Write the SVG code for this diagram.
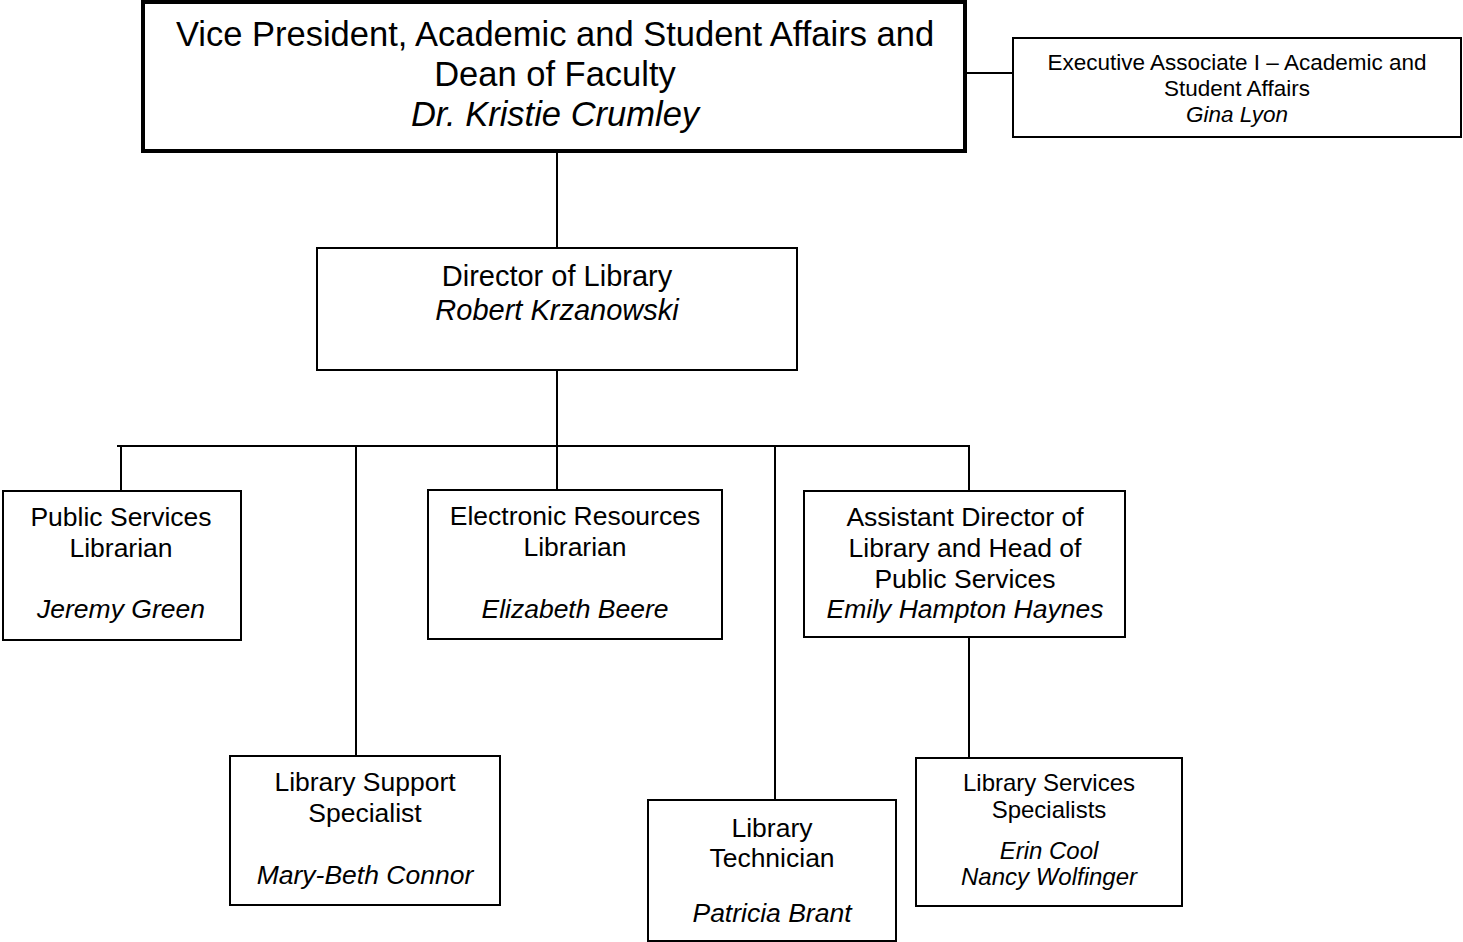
<svg xmlns="http://www.w3.org/2000/svg" width="1463" height="942" viewBox="0 0 1463 942">
<style>
.box{fill:#fff;stroke:#000;stroke-width:2}
.vp{fill:#fff;stroke:#000;stroke-width:4}
.ln{stroke:#000;stroke-width:2;fill:none}
text{font-family:"Liberation Sans",Arial,sans-serif;fill:#000;text-anchor:middle}
.i{font-style:italic}
.t1{font-size:34.5px}
.t2{font-size:29px}
.t3{font-size:26.5px}
.t4{font-size:22.5px}
.t5{font-size:24px}
</style>
<rect width="1463" height="942" fill="#fff"/>
<g id="connectors">
<line class="ln" x1="967" y1="73" x2="1012" y2="73"/>
<line class="ln" x1="557" y1="153" x2="557" y2="248"/>
<line class="ln" x1="557" y1="370" x2="557" y2="490"/>
<line class="ln" x1="117" y1="446" x2="970" y2="446"/>
<line class="ln" x1="121" y1="446" x2="121" y2="491"/>
<line class="ln" x1="356" y1="446" x2="356" y2="756"/>
<line class="ln" x1="775" y1="446" x2="775" y2="800"/>
<line class="ln" x1="969" y1="446" x2="969" y2="491"/>
<line class="ln" x1="969" y1="637" x2="969" y2="758"/>
</g>
<g id="vp">
<rect class="vp" x="143" y="2" width="822" height="149"/>
<text class="t1" x="555" y="46">Vice President, Academic and Student Affairs and</text>
<text class="t1" x="555" y="86">Dean of Faculty</text>
<text class="t1 i" x="555" y="126">Dr. Kristie Crumley</text>
</g>
<g id="exec">
<rect class="box" x="1013" y="38" width="448" height="99"/>
<text class="t4" x="1237" y="70">Executive Associate I – Academic and</text>
<text class="t4" x="1237" y="96">Student Affairs</text>
<text class="t4 i" x="1237" y="122">Gina Lyon</text>
</g>
<g id="director">
<rect class="box" x="317" y="248" width="480" height="122"/>
<text class="t2" x="557" y="286">Director of Library</text>
<text class="t2 i" x="557" y="320">Robert Krzanowski</text>
</g>
<g id="public">
<rect class="box" x="3" y="491" width="238" height="149"/>
<text class="t3" x="121" y="526">Public Services</text>
<text class="t3" x="121" y="557">Librarian</text>
<text class="t3 i" x="121" y="618">Jeremy Green</text>
</g>
<g id="electronic">
<rect class="box" x="428" y="490" width="294" height="149"/>
<text class="t3" x="575" y="525">Electronic Resources</text>
<text class="t3" x="575" y="556">Librarian</text>
<text class="t3 i" x="575" y="618">Elizabeth Beere</text>
</g>
<g id="assistant">
<rect class="box" x="804" y="491" width="321" height="146"/>
<text class="t3" x="965" y="526">Assistant Director of</text>
<text class="t3" x="965" y="557">Library and Head of</text>
<text class="t3" x="965" y="588">Public Services</text>
<text class="t3 i" x="965" y="618">Emily Hampton Haynes</text>
</g>
<g id="support">
<rect class="box" x="230" y="756" width="270" height="149"/>
<text class="t3" x="365" y="791">Library Support</text>
<text class="t3" x="365" y="822">Specialist</text>
<text class="t3 i" x="365" y="884">Mary-Beth Connor</text>
</g>
<g id="technician">
<rect class="box" x="648" y="800" width="248" height="141"/>
<text class="t3" x="772" y="837">Library</text>
<text class="t3" x="772" y="867">Technician</text>
<text class="t3 i" x="772" y="922">Patricia Brant</text>
</g>
<g id="services">
<rect class="box" x="916" y="758" width="266" height="148"/>
<text class="t5" x="1049" y="791">Library Services</text>
<text class="t5" x="1049" y="818">Specialists</text>
<text class="t5 i" x="1049" y="859">Erin Cool</text>
<text class="t5 i" x="1049" y="885">Nancy Wolfinger</text>
</g>
</svg>
